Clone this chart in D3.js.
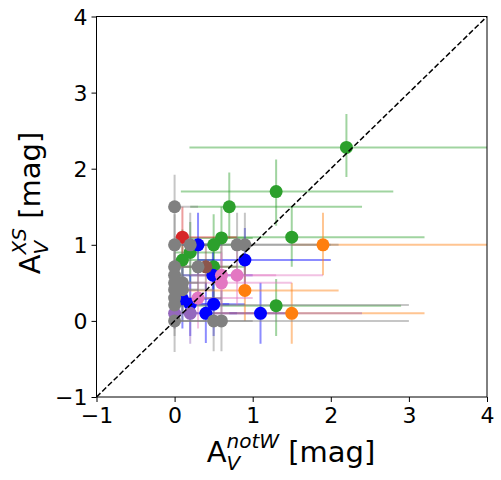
<!DOCTYPE html>
<html><head><meta charset="utf-8">
<script src="https://cdn.jsdelivr.net/npm/d3@7"></script>
<style>body{margin:0;background:#fff}svg{display:block}text{font-family:"DejaVu Sans",sans-serif;fill:#000}</style>
</head><body>
<svg id="c" width="501" height="480"></svg>
<script>
// each point: [x, y, xLow, xHigh, yLow, yHigh]
const grayPts = [
  [0,1.5, 0,0.3, 1.1,1.92],[0,1.0, 0,0.5, 0.6,1.4],[0,0.71, 0,0.6, 0.3,1.1],
  [0,0.6, 0,0.5, 0.2,1.0],[0,0.5, 0,0.4, 0.1,0.9],[0,0.41, 0,0.5, 0.0,0.8],
  [0,0.3, 0,0.6, -0.1,0.7],[0,0.21, 0,3.0, -0.2,0.6],[0,0.0, 0,0.4, -0.41,0.4],
  [0.1,0.5, 0,0.3, 0.1,0.9],[0.1,0.41, 0,0.3, 0.0,0.8],[0.2,1.0, 0,0.5, 0.6,1.42],
  [0.3,0.71, 0,0.5, 0.3,1.1],[0.8,1.0, 0.2,2.0, 0.6,1.42],[0.9,1.0, 0.3,2.1, 0.6,1.42],
  [0.5,0.0, 0,1.0, -0.4,0.4],[0.6,0.0, 0,3.0, -0.4,0.4]
];
const bluePts = [
  [0.3,1.0, 0.1,0.6, 0.6,1.42],[0.9,0.8, 0.3,2.0, 0.4,1.22],[0.49,0.6, 0.1,1.0, 0.3,0.9],
  [0.1,0.29, 0,0.6, -0.1,0.7],[0.2,0.22, 0,0.7, -0.2,0.6],[0.4,0.1, 0.1,0.8, -0.29,0.5],
  [0.5,0.22, 0.1,0.9, -0.2,0.6],[1.1,0.1, 0.7,1.5, -0.3,0.5]
];
const greenPts = [
  [2.2,2.28, 0.19,4.4, 1.89,2.72],[1.3,1.7, 0.08,2.8, 1.25,2.12],[0.7,1.5, 0.2,2.4, 1.08,1.95],
  [1.5,1.1, 0.6,3.2, 0.71,1.5],[0.6,1.09, 0.2,1.0, 0.7,1.5],[0.5,1.0, 0.1,0.9, 0.6,1.4],
  [0.2,0.9, 0,0.6, 0.5,1.3],[0.1,0.8, 0,0.5, 0.4,1.2],[0.5,0.71, 0.1,0.9, 0.3,1.1],
  [1.3,0.2, 0,2.9, -0.2,0.55]
];
const redPts = [[0.1,1.1, 0,0.8, 0.7,1.5]];
const brownPts = [[0.4,0.71, 0.1,0.8, 0.4,1.0]];
const pinkPts = [
  [0.6,0.6, 0.2,1.9, 0.2,1.0],[0.6,0.5, 0.1,1.5, 0.1,0.9],
  [0.8,0.6, 0.3,1.3, 0.2,1.0],[0.3,0.3, 0,1.0, -0.1,0.7]
];
const orangePts = [
  [1.9,1.0, 1.5,4.5, 0.6,1.42],[0.9,0.4, 0,2.1, 0.0,0.8],[1.5,0.1, 0.5,3.2, -0.3,0.5]
];
const purplePts = [[0,0.1, 0,0.3, -0.1,0.3],[0.2,0.1, 0,2.4, -0.3,0.5]];
const xTicks = [-1,0,1,2,3,4];
const yTicks = [-1,0,1,2,3,4];

const series = [
  {pts: greenPts, color: "#2ca02c"},
  {pts: redPts, color: "#d62728"},
  {pts: bluePts, color: "#0000ff"},
  {pts: orangePts, color: "#ff7f0e"},
  {pts: pinkPts, color: "#e377c2"},
  {pts: brownPts, color: "#8c564b"},
  {pts: purplePts, color: "#9467bd"},
  {pts: grayPts, color: "#808080"}
];

const svg = d3.select("#c");
const L = 96.5, R = 487, T = 16.5, B = 397;
const x = d3.scaleLinear().domain([-1,4]).range([L,R]);
const y = d3.scaleLinear().domain([-1,4]).range([B,T]);

svg.append("clipPath").attr("id","clip").append("rect")
  .attr("x",L).attr("y",T).attr("width",R-L).attr("height",B-T);
const g = svg.append("g").attr("clip-path","url(#clip)");

series.forEach(s => {
  s.pts.forEach(p => {
    g.append("line").attr("x1",x(p[2])).attr("x2",x(p[3])).attr("y1",y(p[1])).attr("y2",y(p[1]))
      .attr("stroke",s.color).attr("stroke-width",2).attr("stroke-opacity",0.45);
    g.append("line").attr("x1",x(p[0])).attr("x2",x(p[0])).attr("y1",y(p[4])).attr("y2",y(p[5]))
      .attr("stroke",s.color).attr("stroke-width",2).attr("stroke-opacity",0.45);
  });
});
series.forEach(s => {
  g.selectAll(null).data(s.pts).enter().append("circle")
    .attr("cx",d=>x(d[0])).attr("cy",d=>y(d[1])).attr("r",6.5).attr("fill",s.color);
});

// 1:1 line
g.append("line").attr("x1",x(-1)).attr("y1",y(-1)).attr("x2",x(4)).attr("y2",y(4))
  .attr("stroke","#000").attr("stroke-width",1.5).attr("stroke-dasharray","5.5,2.5");

// axes
const xa = svg.append("g").attr("transform",`translate(0,${B})`)
  .call(d3.axisBottom(x).tickValues(xTicks).tickFormat(d=>d<0?"\u2212"+(-d):d).tickSize(5).tickPadding(4));
const ya = svg.append("g").attr("transform",`translate(${L},0)`)
  .call(d3.axisLeft(y).tickValues(yTicks).tickFormat(d=>d<0?"\u2212"+(-d):d).tickSize(5).tickPadding(4));
[xa,ya].forEach(a=>{
  a.selectAll("text").attr("font-size",22).attr("font-family","DejaVu Sans, sans-serif").attr("fill","#000");
  a.select(".domain").remove();
  a.selectAll("line").attr("stroke","#000");
});
xa.selectAll("text").attr("dy","0.75em");
ya.selectAll("text").attr("dy","0.36em");
svg.append("rect").attr("x",L).attr("y",T).attr("width",R-L).attr("height",B-T)
  .attr("fill","none").attr("stroke","#000").attr("stroke-width",1);

// labels (base, subscript and superscript as separate texts)
function mathLabel(parent, sup, rest) {
  const base = parent.append("text").attr("x",0).attr("y",0).attr("font-size",29).text("A");
  const w = base.node().getComputedTextLength();
  parent.append("text").attr("x",w).attr("y",8).attr("font-size",20).attr("font-style","italic").text("V");
  const supT = parent.append("text").attr("x",w).attr("y",-14).attr("font-size",20).attr("font-style","italic").text(sup);
  const w2 = w + supT.node().getComputedTextLength();
  const restT = parent.append("text").attr("x",w2).attr("y",0).attr("font-size",29).text(rest);
  return w2 + restT.node().getComputedTextLength();
}
const xg = svg.append("g");
const xw = mathLabel(xg, "notW", "\u00a0[mag]");
xg.attr("transform",`translate(${291 - xw/2},462)`);

const yg = svg.append("g");
const yw = mathLabel(yg, "XS", "\u00a0[mag]");
yg.attr("transform",`translate(40,${203 + yw/2}) rotate(-90)`);
</script>
</body></html>
